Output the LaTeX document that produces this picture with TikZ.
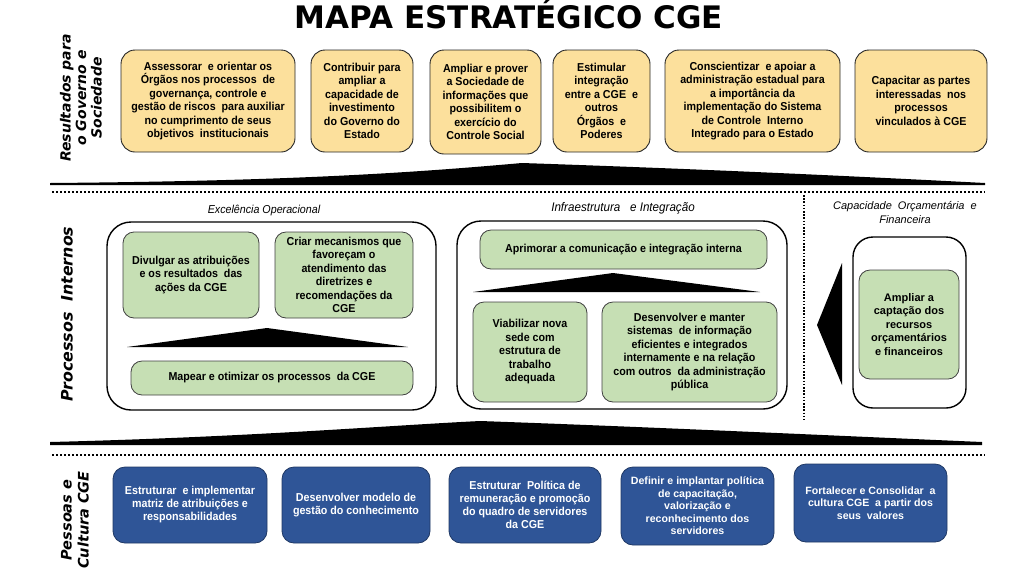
\documentclass[tikz,border=0pt]{standalone}
\usepackage{fontspec}
\setmainfont{Liberation Sans}
\newfontfamily\narrowfont[FakeStretch=0.93]{Liberation Sans}
\newfontfamily\titlefont{DejaVu Sans}
\usetikzlibrary{positioning}
\definecolor{cgeyellow}{HTML}{FCE09C}
\definecolor{cgegreen}{HTML}{C6DFB4}
\definecolor{cgeblue}{HTML}{2F5597}
\definecolor{cgenavy}{HTML}{1F3864}
\definecolor{cgegray}{HTML}{404040}

\begin{document}
\begin{tikzpicture}[
      x=1pt, y=-1pt,
      every node/.style={inner sep=2pt},
      goal/.style={draw=black!85, line width=0.9pt, fill=cgeyellow, rounded corners=14pt,
                   minimum width=#1, minimum height=102pt, align=center,
                   font=\narrowfont\bfseries\fontsize{11.5}{13.5}\selectfont},
      proc/.style={draw=cgegray, line width=0.8pt, fill=cgegreen, rounded corners=11pt,
                   minimum width=#1, align=center,
                   font=\narrowfont\bfseries\fontsize{11.5}{13.5}\selectfont},
      people/.style={draw=cgenavy, line width=0.8pt, fill=cgeblue, text=white, rounded corners=12pt,
                   minimum width=#1, minimum height=76pt, align=center,
                   font=\narrowfont\bfseries\fontsize{11.5}{13}\selectfont},
      group/.style={draw, line width=1.4pt, rounded corners=24pt, minimum width=#1},
      grouplabel/.style={align=center, font=\narrowfont\itshape\fontsize{11.5}{13}\selectfont},
      side/.style={rotate=90, align=center, font=\titlefont\bfseries\itshape\fontsize{14}{15.5}\selectfont},
      sep/.style={line width=2.6pt, dash pattern=on 2pt off 2pt},
    ]
    \useasboundingbox (0,0) rectangle (1024,576);

    \node[anchor=base, font=\titlefont\bfseries\fontsize{31}{36}\selectfont] (title) at (509,28)
      {MAPA ESTRATÉGICO CGE};

    % resultados
    \node[side] (lres) at (81,98) {Resultados para\\o Governo e\\Sociedade};
    \node[goal=174pt] (r1) at (208,101)
      {Assessorar\ \ e orientar os\\Órgãos nos processos\ \ de\\governança, controle e\\gestão de riscos\ \ para auxiliar\\no cumprimento de seus\\objetivos\ \ institucionais};
    \node[goal=102pt] (r2) at (362,101)
      {Contribuir para\\ampliar a\\capacidade de\\investimento\\do Governo do\\Estado};
    \node[goal=111pt, minimum height=104pt] (r3) at (485.5,102)
      {Ampliar e prover\\a Sociedade de\\informações que\\possibilitem o\\exercício do\\Controle Social};
    \node[goal=97pt] (r4) at (601.5,101)
      {Estimular\\integração\\entre a CGE\ \ e\\outros\\Órgãos\ \ e\\Poderes};
    \node[goal=175pt] (r5) at (752.5,101)
      {Conscientizar\ \ e apoiar a\\administração estadual para\\a importância da\\implementação do Sistema\\de Controle\ \ Interno\\Integrado para o Estado};
    \node[goal=132pt] (r6) at (921,101)
      {Capacitar as partes\\interessadas\ \ nos\\processos\\vinculados à CGE};

    \fill (50,185) -- (50,183) .. controls (300,181) and (420,172) .. (522,163)
          .. controls (700,169) and (850,176) .. (985,183) -- (985,185) -- cycle;
    \draw[sep] (52,192) -- (985,192);

    % processos internos
    \node[side, font=\titlefont\bfseries\itshape\fontsize{15.8}{18}\selectfont] (lproc) at (67,314)
      {Processos\ \ Internos};

    \node[grouplabel] (leo) at (264,211) {Excelência Operacional};
    \node[group=329pt, minimum height=188pt] (eo) at (271.5,316) {};
    \node[proc=136pt, minimum height=86pt] (e1) at (191,275)
      {Divulgar as atribuições\\e os resultados\ \ das\\ações da CGE};
    \node[proc=138pt, minimum height=86pt] (e2) at (344,275)
      {Criar mecanismos que\\favoreçam o\\atendimento das\\diretrizes e\\recomendações da\\CGE};
    \fill (127,347) -- (267,328) -- (408,347) -- cycle;
    \node[proc=282pt, minimum height=34pt] (e3) at (272,378)
      {Mapear e otimizar os processos\ \ da CGE};

    \node[grouplabel, font=\narrowfont\itshape\fontsize{12.5}{14}\selectfont] (lie) at (623,208)
      {Infraestrutura\ \ \ e Integração};
    \node[group=330pt, minimum height=188pt] (ie) at (622,315) {};
    \node[proc=287pt, minimum height=39pt] (i1) at (623.5,249.5)
      {Aprimorar a comunicação e integração interna};
    \fill (473,292) -- (613,273) -- (760,292) -- cycle;
    \node[proc=114pt, minimum height=100pt] (i2) at (530,352)
      {Viabilizar nova\\sede com\\estrutura de\\trabalho\\adequada};
    \node[proc=175pt, minimum height=100pt] (i3) at (689.5,352)
      {Desenvolver e manter\\sistemas\ \ de informação\\eficientes e integrados\\internamente e na relação\\com outros\ \ da administração\\pública};

    \draw[line width=2pt, dash pattern=on 1.6pt off 1.6pt] (804,195) -- (804,420);

    \node[grouplabel, font=\itshape\fontsize{11}{14}\selectfont] (lco) at (905,212)
      {Capacidade\ \ Orçamentária\ \ e\\Financeira};
    \node[group=113pt, minimum height=171pt, rounded corners=20pt] (co) at (909.5,322.5) {};
    \node[proc=100pt, minimum height=109pt, font=\bfseries\fontsize{11}{13.5}\selectfont] (c1) at (909,324.5)
      {Ampliar a\\captação dos\\recursos\\orçamentários\\e financeiros};
    \fill (842,263) -- (817,325) -- (842,385) -- cycle;

    \fill (50,445) -- (50,442) .. controls (250,437) and (380,426) .. (480,421)
          .. controls (650,427) and (820,435) .. (982,442) -- (982,445) -- cycle;
    \draw[sep] (52,455) -- (985,455);

    % pessoas e cultura
    \node[side, font=\titlefont\bfseries\itshape\fontsize{14.5}{17}\selectfont] (lpes) at (75,520)
      {Pessoas e\\Cultura CGE};
    \node[people=154pt] (p1) at (190,505)
      {Estruturar\ \ e implementar\\matriz de atribuições e\\responsabilidades};
    \node[people=148pt] (p2) at (356,505)
      {Desenvolver modelo de\\gestão do conhecimento};
    \node[people=152pt] (p3) at (525,505)
      {Estruturar\ \ Política de\\remuneração e promoção\\do quadro de servidores\\da CGE};
    \node[people=153pt, minimum height=78pt, font=\bfseries\fontsize{10.6}{12.5}\selectfont] (p4) at (697.5,506)
      {Definir e implantar política\\de capacitação,\\valorização e\\reconhecimento dos\\servidores};
    \node[people=153pt, minimum height=78pt, font=\bfseries\fontsize{10.6}{12.5}\selectfont] (p5) at (870.5,503)
      {Fortalecer e Consolidar\ \ a\\cultura CGE\ \ a partir dos\\seus\ \ valores};
  \end{tikzpicture}
\end{document}
